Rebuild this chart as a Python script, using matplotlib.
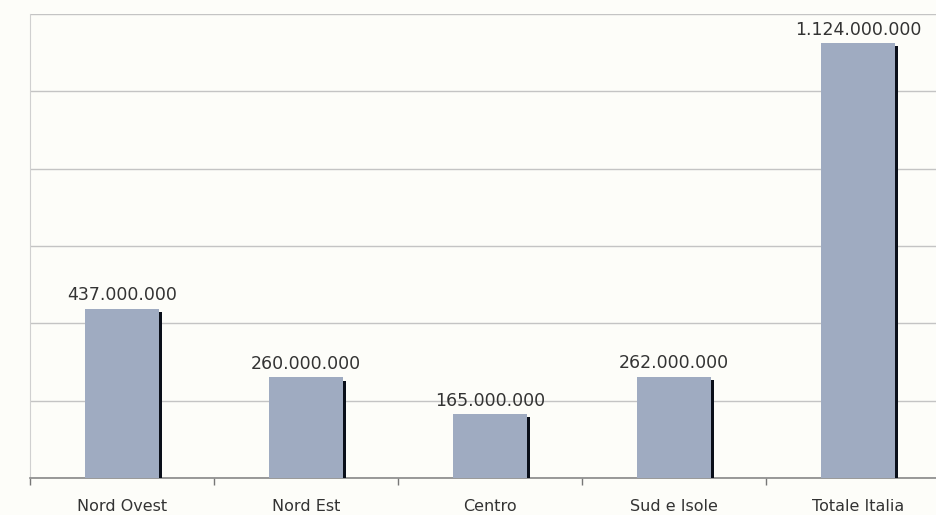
import matplotlib
matplotlib.use("Agg")
import matplotlib.pyplot as plt
import numpy as np

categories = ["Nord Ovest", "Nord Est", "Centro", "Sud e Isole", "Totale Italia"]
values = [437000000, 260000000, 165000000, 262000000, 1124000000]
yticks = [0, 200000000, 400000000, 600000000, 800000000, 1000000000, 1200000000]

def fmt(v):
    return f"{v:,}".replace(",", ".")

fig = plt.figure(figsize=(9.36, 5.15), dpi=100, facecolor="#fdfdf9")
ax = fig.add_axes([30/936, 1-478/515, 920/936, (478-14)/515])
ax.set_facecolor("#fdfdf9")

x = np.arange(len(categories))
w = 0.40
bar_color = "#9fabc1"
ax.bar(x, values, width=w, color=bar_color, zorder=3)
# dark shadow on the right side of each bar
sh = 0.017
ax.bar(x + w/2 + sh/2, [v - 8000000 for v in values], width=sh, color="#0a0f1a", zorder=3)

for xi, v in zip(x, values):
    ax.text(xi, v + 12000000, fmt(v), ha="center", va="bottom",
            fontsize=12.5, color="#333333", family="DejaVu Sans")

ax.set_xlim(-0.5, len(categories) - 0.5)
ax.set_ylim(0, 1200000000)
ax.set_yticks(yticks)
ax.yaxis.grid(True, color="#c4c4c4", linewidth=1.0, zorder=0)
ax.tick_params(axis="y", left=False, labelleft=False)

ax.set_xticks(x)
ax.set_xticklabels(categories, fontsize=11.5, color="#333333")
ax.tick_params(axis="x", which="major", length=0, pad=15)
ax.set_xticks(np.arange(-0.5, len(categories), 1.0), minor=True)
ax.tick_params(axis="x", which="minor", length=5, color="#777777", width=1)

for s in ["top", "right"]:
    ax.spines[s].set_visible(False)
ax.spines["left"].set_color("#d0d0d0")
ax.spines["bottom"].set_color("#888888")
ax.spines["bottom"].set_linewidth(1.2)

fig.savefig("out.png", dpi=100, facecolor=fig.get_facecolor())
